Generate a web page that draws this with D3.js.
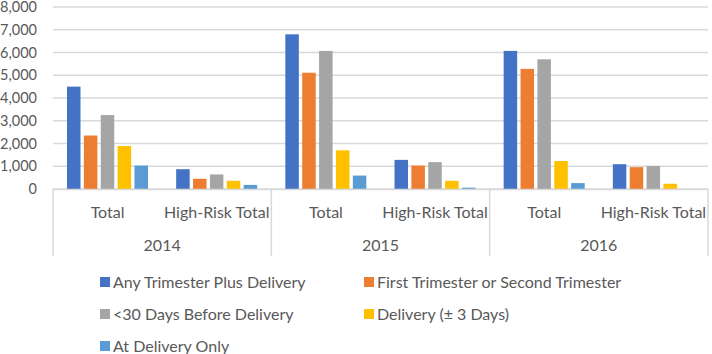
<!DOCTYPE html>
<html>
<head>
<meta charset="utf-8">
<script src="https://cdn.jsdelivr.net/npm/d3@7"></script>
<style>
    body { margin: 0; background: #fff; }
    svg text { font-family: Lato, "Open Sans", sans-serif; fill: #595959; }
</style>
</head>
<body>
<svg id="chart" width="712" height="354"></svg>
<script>
// data
let years = ["2014", "2015", "2016"];
let groups = ["Total", "High-Risk Total"];
let seriesNames = ["Any Trimester Plus Delivery", "First Trimester or Second Trimester",
    "<30 Days Before Delivery", "Delivery (\u00b1 3 Days)", "At Delivery Only"];
let colors = ["#4472C4", "#ED7D31", "#A5A5A5", "#FFC000", "#5B9BD5"];
let yTicks = [0, 1000, 2000, 3000, 4000, 5000, 6000, 7000, 8000];

// one array per series, order: 2014 Total, 2014 HR, 2015 Total, 2015 HR, 2016 Total, 2016 HR
let anyTrimester = [4500, 870, 6800, 1280, 6070, 1090];
let firstSecond = [2350, 450, 5110, 1030, 5280, 960];
let under30 = [3250, 640, 6070, 1180, 5700, 1010];
let delivery3 = [1890, 360, 1700, 360, 1230, 230];
let atDelivery = [1030, 180, 590, 60, 260, 0];
let seriesValues = [anyTrimester, firstSecond, under30, delivery3, atDelivery];

let categories = [];
years.forEach(function (yr) {
    groups.forEach(function (g) {
        categories.push(yr + "|" + g);
    });
});

let svg = d3.select("#chart");
let plotLeft = 53, plotRight = 708, plotTop = 7, plotBottom = 189;

let x0 = d3.scaleBand()
    .domain(categories)
    .range([plotLeft, plotRight])
    .padding(0);

let x1 = d3.scaleBand()
    .domain(d3.range(seriesNames.length))
    .range([14, 95])
    .paddingInner(0.2);

let y = d3.scaleLinear()
    .domain([0, 8000])
    .range([plotBottom, plotTop]);

// gridlines
svg.append("g")
    .selectAll("line")
    .data(yTicks)
    .enter().append("line")
    .attr("x1", plotLeft)
    .attr("x2", plotRight)
    .attr("y1", d => y(d))
    .attr("y2", d => y(d))
    .attr("stroke", "#d9d9d9")
    .attr("stroke-width", 1.5);

// y labels
svg.append("g")
    .selectAll("text")
    .data(yTicks)
    .enter().append("text")
    .attr("x", 37)
    .attr("y", d => y(d))
    .attr("dy", "0.35em")
    .attr("text-anchor", "end")
    .style("font-size", "14.5px")
    .text(d => d3.format(",")(d));

// bars
let cat = svg.append("g")
    .selectAll("g")
    .data(categories)
    .enter().append("g")
    .attr("transform", d => "translate(" + x0(d) + ",0)");

cat.selectAll("rect")
    .data(function (d, i) {
        return seriesValues.map((vals, s) => ({s: s, v: vals[i]}));
    })
    .enter().append("rect")
    .attr("x", d => x1(d.s))
    .attr("width", x1.bandwidth())
    .attr("y", d => y(d.v))
    .attr("height", d => plotBottom - y(d.v))
    .attr("fill", d => colors[d.s]);

// category axis line
svg.append("line")
    .attr("x1", plotLeft).attr("x2", plotRight)
    .attr("y1", plotBottom + 0.5).attr("y2", plotBottom + 0.5)
    .attr("stroke", "#d9d9d9")
    .attr("stroke-width", 1.5);

// group dividers
let yearWidth = x0.bandwidth() * groups.length;
let dividers = d3.range(years.length + 1).map(i => plotLeft + i * yearWidth);
svg.append("g")
    .selectAll("line")
    .data(dividers)
    .enter().append("line")
    .attr("x1", d => d).attr("x2", d => d)
    .attr("y1", plotBottom).attr("y2", 256)
    .attr("stroke", "#d9d9d9")
    .attr("stroke-width", 1.5);

// category labels
svg.append("g")
    .selectAll("text")
    .data(categories)
    .enter().append("text")
    .attr("x", d => x0(d) + x0.bandwidth() / 2)
    .attr("y", 212)
    .attr("dy", "0.35em")
    .attr("text-anchor", "middle")
    .style("font-size", "16px")
    .text(d => d.split("|")[1]);

// year labels
svg.append("g")
    .selectAll("text")
    .data(years)
    .enter().append("text")
    .attr("x", (d, i) => plotLeft + i * yearWidth + yearWidth / 2)
    .attr("y", 245)
    .attr("dy", "0.35em")
    .attr("text-anchor", "middle")
    .style("font-size", "16px")
    .text(d => d);

// legend
let legend = svg.append("g")
    .selectAll("g")
    .data(seriesNames)
    .enter().append("g")
    .attr("transform", function (d, i) {
        let lx = (i % 2 == 0) ? 100 : 364;
        let ly = 282 + Math.floor(i / 2) * 32;
        return "translate(" + lx + "," + ly + ")";
    });

legend.append("rect")
    .attr("x", 0)
    .attr("y", -5)
    .attr("width", 10)
    .attr("height", 10)
    .attr("fill", (d, i) => colors[i]);

legend.append("text")
    .attr("x", 13)
    .attr("y", 0)
    .attr("dy", "0.35em")
    .style("font-size", "16px")
    .text(d => d);
</script>
</body>
</html>
